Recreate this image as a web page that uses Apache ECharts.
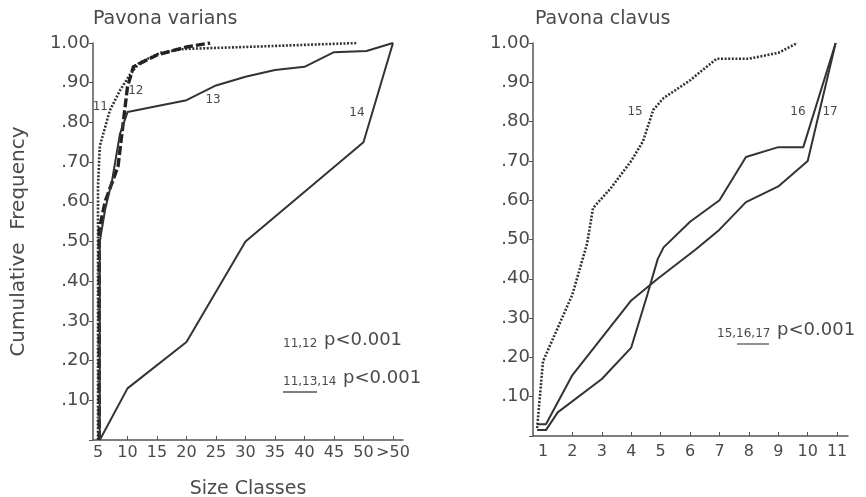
<!DOCTYPE html>
<html>
<head>
<meta charset="utf-8">
<title>Pavona cumulative frequency</title>
<script src="https://cdn.jsdelivr.net/npm/echarts@6/dist/echarts.min.js"></script>
<style>
  html, body { margin: 0; padding: 0; background: #fff; }
  #chart { width: 866px; height: 497px; }
</style>
</head>
<body>
<div id="chart"></div>
<script>
// size class ticks
const variansTicks = [5, 10, 15, 20, 25, 30, 35, 40, 45, 50, 55]
const variansTickLabels = ['5', '10', '15', '20', '25', '30', '35', '40', '45', '50', '>50']
const clavusTicks = [1, 2, 3, 4, 5, 6, 7, 8, 9, 10, 11]
const clavusTickLabels = ['1', '2', '3', '4', '5', '6', '7', '8', '9', '10', '11']

// Pavona varians, curves 11-14  [size class, cumulative frequency]
const varians11 = [[5, 0], [5, 0.64], [5.3, 0.74], [7, 0.83], [8.7, 0.88], [10.4, 0.92], [12, 0.95], [15.5, 0.975], [19.5, 0.985], [30, 0.99], [49, 1.0]]
const varians12 = [[5.2, 0], [5.2, 0.53], [6.2, 0.6], [8.4, 0.69], [10, 0.89], [11, 0.94], [15, 0.97], [20, 0.99], [24, 1.0]]
const varians13 = [[5.3, 0], [5.3, 0.5], [6.2, 0.58], [7.4, 0.655], [8.7, 0.77], [10, 0.826], [20, 0.856], [25, 0.893], [30, 0.915], [35, 0.932], [40, 0.94], [45, 0.977], [50.5, 0.98], [55, 1.0]]
const varians14 = [[5.3, 0], [10, 0.13], [20, 0.247], [30, 0.5], [50, 0.75], [55, 1.0]]

// Pavona clavus, curves 15-17
const clavus15 = [[0.8, 0.02], [1, 0.19], [2, 0.36], [2.5, 0.49], [2.7, 0.58], [3.3, 0.63], [4, 0.70], [4.4, 0.75], [4.75, 0.83], [5.1, 0.86], [6, 0.905], [6.9, 0.96], [8, 0.96], [9, 0.975], [9.65, 1.0]]
const clavus16 = [[0.8, 0.015], [1.1, 0.015], [1.5, 0.06], [3, 0.145], [4, 0.225], [4.55, 0.36], [4.9, 0.45], [5.1, 0.48], [6, 0.545], [7, 0.60], [7.9, 0.71], [9, 0.735], [9.85, 0.735], [10.95, 1.0]]
const clavus17 = [[0.8, 0.03], [1.1, 0.03], [2, 0.155], [4, 0.345], [4.9, 0.40], [6.2, 0.475], [7, 0.525], [7.9, 0.595], [9, 0.635], [10, 0.70], [10.95, 1.0]]

const ink = '#333'
const textColor = '#4a4a4a'
const font = 'DejaVu Sans'

const chart = echarts.init(document.getElementById('chart'))

const yLabel = v => (v === 0 ? '' : v.toFixed(2).replace(/^0/, ''))

const yAxisBase = {
  type: 'value',
  min: 0,
  max: 1,
  interval: 0.1,
  axisLine: { show: true, lineStyle: { color: '#555', width: 1.5 } },
  axisTick: { show: true, length: 4, lineStyle: { color: '#555' } },
  axisLabel: { color: textColor, fontFamily: font, fontSize: 18, margin: 3, formatter: yLabel },
  splitLine: { show: false }
}

const xAxisBase = {
  type: 'value',
  axisLine: { show: true, onZero: false, lineStyle: { color: '#555', width: 1.5 } },
  axisTick: { show: true, inside: true, length: 4, lineStyle: { color: '#555' } },
  splitLine: { show: false }
}

const curveLabel = (text, coord) => ({
  symbol: 'rect',
  symbolSize: 0,
  data: [{ coord: coord, value: text }],
  label: { show: true, position: 'inside', formatter: text, color: textColor, fontFamily: font, fontSize: 12 }
})

const lineSeries = (data, xi, style, tag, coord) => ({
  type: 'line',
  xAxisIndex: xi,
  yAxisIndex: xi,
  data: data,
  showSymbol: false,
  symbol: 'none',
  lineStyle: Object.assign({ color: ink, width: 2 }, style),
  markPoint: curveLabel(tag, coord),
  z: 3
})

const noteRich = {
  s: { fontSize: 12, fontFamily: font, fill: textColor, padding: [7, 0, 0, 0] },
  p: { fontSize: 18, fontFamily: font, fill: textColor }
}

const titleStyle = { color: textColor, fontFamily: font, fontWeight: 'normal', fontSize: 19 }

const option = {
  animation: false,
  backgroundColor: '#fff',
  title: [
    { text: 'Pavona varians', left: 88, top: 5, textStyle: titleStyle },
    { text: 'Pavona clavus', left: 530, top: 5, textStyle: titleStyle }
  ],
  grid: [
    { left: 93, right: 463, top: 43, bottom: 57, containLabel: false, outerBoundsMode: 'none' },
    { left: 533, right: 18, top: 43, bottom: 61, containLabel: false, outerBoundsMode: 'none' }
  ],
  xAxis: [
    Object.assign({}, xAxisBase, {
      gridIndex: 0,
      min: 4.15,
      max: 56.7,
      name: 'Size Classes',
      nameLocation: 'middle',
      nameGap: 40,
      nameTextStyle: { color: textColor, fontFamily: font, fontSize: 19 },
      axisTick: Object.assign({}, xAxisBase.axisTick, { customValues: variansTicks.slice(1) }),
      axisLabel: {
        customValues: variansTicks,
        color: textColor, fontFamily: font, fontSize: 16, margin: 5,
        formatter: v => variansTickLabels[variansTicks.indexOf(v)]
      }
    }),
    Object.assign({}, xAxisBase, {
      gridIndex: 1,
      min: 0.66,
      max: 11.37,
      axisTick: Object.assign({}, xAxisBase.axisTick, { customValues: clavusTicks.slice(1) }),
      axisLabel: {
        customValues: clavusTicks,
        color: textColor, fontFamily: font, fontSize: 16, margin: 8,
        formatter: v => clavusTickLabels[clavusTicks.indexOf(v)]
      }
    })
  ],
  yAxis: [
    Object.assign({}, yAxisBase, {
      gridIndex: 0,
      name: 'Cumulative  Frequency',
      nameLocation: 'middle',
      nameGap: 64,
      nameTextStyle: { color: textColor, fontFamily: font, fontSize: 20 }
    }),
    Object.assign({}, yAxisBase, { gridIndex: 1 })
  ],
  series: [
    lineSeries(varians11, 0, { type: [2, 1.6], width: 2.6 }, '11', [5.4, 0.84]),
    lineSeries(varians12, 0, { type: [9, 3], width: 3.4, color: '#222' }, '12', [11.4, 0.88]),
    lineSeries(varians13, 0, {}, '13', [24.5, 0.856]),
    lineSeries(varians14, 0, {}, '14', [48.9, 0.824]),
    lineSeries(clavus15, 1, { type: [2, 1.6], width: 2.6 }, '15', [4.13, 0.824]),
    lineSeries(clavus16, 1, {}, '16', [9.67, 0.824]),
    lineSeries(clavus17, 1, {}, '17', [10.76, 0.824])
  ],
  graphic: [
    { type: 'text', left: 283, top: 331, style: { text: '{s|11,12}  {p|p<0.001}', rich: noteRich } },
    { type: 'text', left: 283, top: 369, style: { text: '{s|11,13,14}  {p|p<0.001}', rich: noteRich } },
    { type: 'line', shape: { x1: 283, y1: 392, x2: 317, y2: 392 }, style: { stroke: '#555', lineWidth: 1.3 } },
    { type: 'text', left: 717, top: 321, style: { text: '{s|15,16,17}  {p|p<0.001}', rich: noteRich } },
    { type: 'line', shape: { x1: 737, y1: 344, x2: 769, y2: 344 }, style: { stroke: '#555', lineWidth: 1.3 } }
  ]
}

chart.setOption(option)
</script>
</body>
</html>
